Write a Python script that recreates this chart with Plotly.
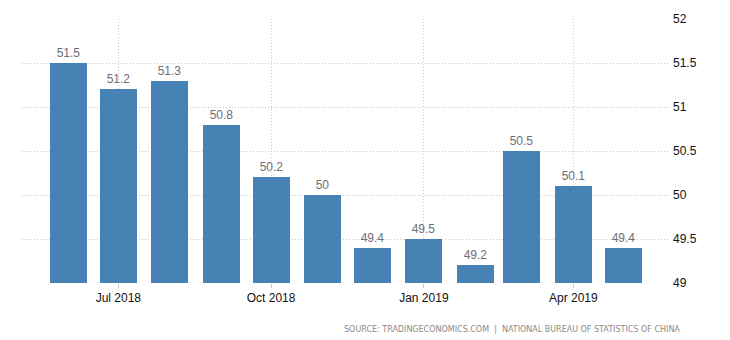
import plotly.graph_objects as go

months = ["2018-06-01", "2018-07-01", "2018-08-01", "2018-09-01", "2018-10-01", "2018-11-01",
          "2018-12-01", "2019-01-01", "2019-02-01", "2019-03-01", "2019-04-01", "2019-05-01"]
values = [51.5, 51.2, 51.3, 50.8, 50.2, 50.0, 49.4, 49.5, 49.2, 50.5, 50.1, 49.4]
value_labels = ["51.5", "51.2", "51.3", "50.8", "50.2", "50", "49.4", "49.5", "49.2", "50.5", "50.1", "49.4"]
x_tick_vals = ["2018-07-01", "2018-10-01", "2019-01-01", "2019-04-01"]
x_tick_text = ["Jul 2018", "Oct 2018", "Jan 2019", "Apr 2019"]
y_tick_vals = [49, 49.5, 50, 50.5, 51, 51.5, 52]
y_tick_text = ["49", "49.5", "50", "50.5", "51", "51.5", "52"]
source_text = "SOURCE: TRADINGECONOMICS.COM  |  NATIONAL BUREAU OF STATISTICS OF CHINA"

DAY_MS = 86400000

fig = go.Figure(go.Bar(
    x=months, y=values,
    width=22.4 * DAY_MS,
    marker=dict(color="#4682b4", line=dict(width=0)),
    text=value_labels, textposition="outside",
    textfont=dict(family="Liberation Sans, Arial", size=12, color="#6e6e78"),
    cliponaxis=False,
))

fig.update_layout(
    width=730, height=340,
    margin=dict(l=22, r=62, t=19, b=57),
    paper_bgcolor="white", plot_bgcolor="white",
    showlegend=False,
    bargap=0,
    xaxis=dict(
        type="date", range=["2018-05-04", "2019-05-28"],
        tickvals=x_tick_vals, ticktext=x_tick_text,
        showgrid=True, gridcolor="#c8c8c8", griddash="1px,2px", gridwidth=1,
        ticks="outside", ticklen=4, tickcolor="#cccccc",
        tickfont=dict(family="Liberation Sans, Arial", size=12, color="#111111"),
        showline=False, zeroline=False,
    ),
    yaxis=dict(
        side="right", range=[49, 52],
        tickvals=y_tick_vals, ticktext=y_tick_text,
        showgrid=True, gridcolor="#c8c8c8", griddash="1px,2px", gridwidth=1,
        ticks="", ticklabelstandoff=4,
        tickfont=dict(family="Liberation Sans, Arial", size=12, color="#111111"),
        showline=False, zeroline=False,
    ),
    annotations=[dict(
        text=source_text, xref="paper", yref="paper", x=0.4955, y=-0.175,
        xanchor="left", yanchor="middle", showarrow=False,
        font=dict(family="DejaVu Sans", size=8, color="#8a8a8a"),
    )],
)

fig.write_html("out.html")
